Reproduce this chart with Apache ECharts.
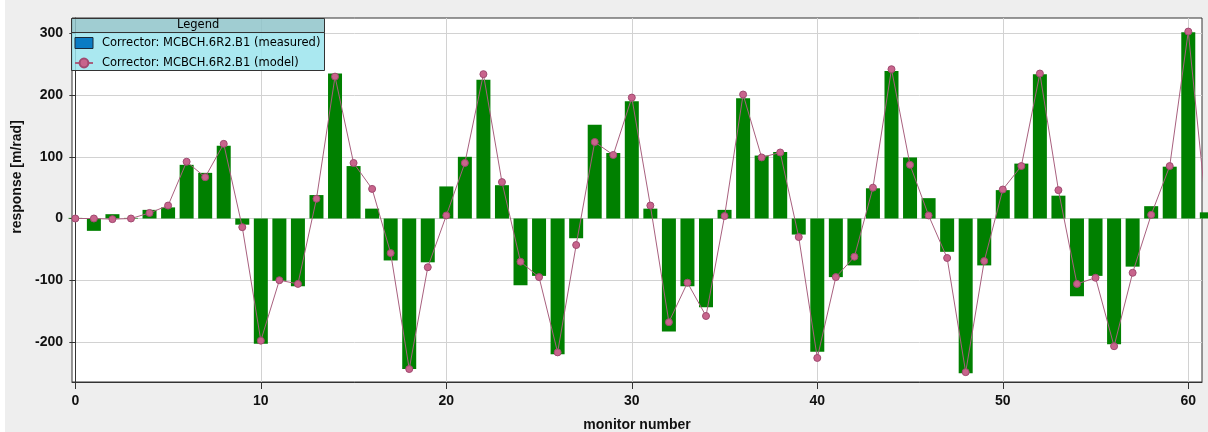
<!DOCTYPE html>
<html>
<head>
<meta charset="utf-8">
<script src="https://cdn.jsdelivr.net/npm/echarts@6/dist/echarts.min.js"></script>
<style>
html,body{margin:0;padding:0;background:#eeeeee;}
#chart{width:1208px;height:432px;}
</style>
</head>
<body>
<div id="chart"></div>
<script>
var monitors = [];
for (var k = 0; k <= 61; k++) monitors.push(k);

var measured = [1, -20, 7, 1, 14, 18, 87, 74, 118, -10,
  -203, -101, -110, 38, 235, 85, 16, -68, -244, -71,
  52, 100, 225, 54, -108, -93, -220, -32, 152, 106,
  190, 16, -183, -110, -144, 14, 195, 102, 108, -26,
  -216, -95, -76, 49, 239, 99, 33, -54, -251, -76,
  46, 89, 234, 37, -126, -93, -204, -78, 20, 84,
  302, 10];

var model = [0, 0, -1, 0, 9, 21, 92, 67, 121, -14,
  -198, -100, -106, 32, 230, 90, 48, -56, -244, -79,
  5, 90, 234, 59, -70, -95, -217, -43, 124, 103,
  196, 21, -168, -104, -158, 4, 201, 99, 107, -30,
  -226, -95, -62, 50, 242, 87, 5, -64, -249, -69,
  47, 85, 235, 46, -106, -96, -207, -88, 6, 85,
  303, 5];

var xTicks = [0, 10, 20, 30, 40, 50, 60];
var yTicks = [-200, -100, 0, 100, 200, 300];

var seriesNames = ['Corrector: MCBCH.6R2.B1 (measured)', 'Corrector: MCBCH.6R2.B1 (model)'];
var legendTitle = 'Legend';
var xName = 'monitor number';
var yName = 'response [m/rad]';

var measuredData = monitors.map(function (m, i) { return [m, measured[i]]; });
var modelData = monitors.map(function (m, i) { return [m, model[i]]; });

var chart = echarts.init(document.getElementById('chart'), null, {renderer: 'canvas'});
var labelFont = {fontFamily: 'Liberation Sans', fontWeight: 'bold', fontSize: 14, color: '#111'};

chart.setOption({
  backgroundColor: '#eeeeee',
  animation: false,
  grid: {left: 72, right: 6, top: 18, bottom: 50, show: true, outerBoundsMode: 'none', containLabel: false,
    backgroundColor: '#ffffff', borderColor: '#333333', borderWidth: 1},
  xAxis: {
    type: 'value', min: -0.18, max: 60.74,
    name: xName, nameLocation: 'middle', nameGap: 36,
    nameTextStyle: labelFont,
    axisLine: {show: true, onZero: false, lineStyle: {color: '#333333'}},
    axisTick: {show: true, length: 7, customValues: xTicks, lineStyle: {color: '#333333'}},
    axisLabel: Object.assign({margin: 12, customValues: xTicks}, labelFont),
    splitLine: {show: true, lineStyle: {color: '#d2d2d2', width: 1}}
  },
  yAxis: {
    type: 'value', min: -265, max: 325,
    name: yName, nameLocation: 'middle', nameGap: 44,
    nameTextStyle: Object.assign({padding: [0, 0, 0, 46]}, labelFont),
    axisLine: {show: true, lineStyle: {color: '#333333'}},
    axisTick: {show: true, length: 6, customValues: yTicks, lineStyle: {color: '#333333'}},
    axisLabel: Object.assign({margin: 9, customValues: yTicks}, labelFont),
    splitLine: {show: true, lineStyle: {color: '#d2d2d2', width: 1}}
  },
  legend: {
    orient: 'vertical', left: 71, top: 37, padding: [0, 0, 0, 3],
    itemWidth: 18, itemHeight: 11, itemGap: 8, z: 5,
    textStyle: {fontFamily: 'DejaVu Sans', fontSize: 11.5, color: '#000', padding: [0, 0, 0, 4]},
    data: [
      {name: seriesNames[0], icon: 'rect', itemStyle: {color: '#0a7cc4', borderColor: '#1a2a3a', borderWidth: 1}},
      {name: seriesNames[1]}
    ]
  },
  graphic: [
    {type: 'rect', left: 0, top: 0, z: 0, shape: {width: 5, height: 432}, style: {fill: '#ffffff'}},
    {type: 'rect', left: 71, top: 18, z: 3, shape: {width: 253, height: 14}, style: {fill: 'rgba(143,196,202,0.85)', stroke: '#333', lineWidth: 1}},
    {type: 'rect', left: 71, top: 32, z: 3, shape: {width: 253, height: 38}, style: {fill: 'rgba(155,228,237,0.85)', stroke: '#333', lineWidth: 1}},
    {type: 'text', left: 177, top: 19, z: 4, style: {text: legendTitle, font: '11.5px "DejaVu Sans"', fill: '#000'}}
  ],
  series: [
    {
      name: seriesNames[0], type: 'bar', data: measuredData, barWidth: 14, clip: true,
      itemStyle: {color: '#008000'}
    },
    {
      name: seriesNames[1], type: 'line', data: modelData, clip: true,
      symbol: 'circle', symbolSize: 7,
      lineStyle: {color: '#a8607e', width: 1},
      itemStyle: {color: '#c8648c', borderColor: '#a04a70', borderWidth: 1}
    }
  ]
});
</script>
</body>
</html>
